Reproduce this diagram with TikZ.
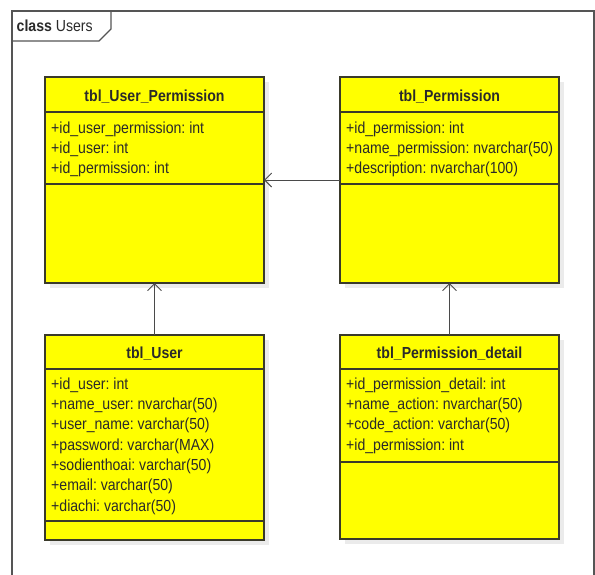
\documentclass[tikz,border=0pt]{standalone}
\usepackage{fontspec}
\setmainfont[FakeStretch=0.88]{Liberation Sans}
\usetikzlibrary{arrows.meta}
\definecolor{tblfill}{HTML}{FFFF00}
\definecolor{tblline}{HTML}{3A3A2A}
\definecolor{txtcol}{HTML}{2A2A2A}
\definecolor{linkcol}{HTML}{4A4A4A}
\definecolor{framecol}{HTML}{555555}
\tikzset{
  tblbox/.style={draw=tblline, line width=1.1pt, fill=tblfill, rectangle,
    anchor=north west, inner sep=0pt, outer sep=0pt},
  tblshadow/.style={fill=black!8, draw=none},
  tbltitle/.style={font=\bfseries\fontsize{16}{18}\selectfont, text=txtcol,
    inner sep=0pt, anchor=base},
  tblattr/.style={font=\fontsize{16}{20.3}\selectfont, text=txtcol, align=left,
    anchor=north west, inner sep=0pt},
  divline/.style={draw=tblline, line width=1.1pt},
  assoc/.style={draw=linkcol, line width=0.9pt,
    -{Straight Barb[length=7pt, width=14pt, line width=0.9pt]}},
}
\begin{document}
\frenchspacing
\begin{tikzpicture}[x=1pt, y=-1pt]
\useasboundingbox (0,0) rectangle (595,574);
\fill[white] (0,0) rectangle (595,574);

% diagram frame and its name tab
\draw[framecol, line width=1.2pt] (12,590) -- (12,11) -- (594,11) -- (594,590);
\draw[framecol, line width=1.2pt] (12,41) -- (99,41) -- (111,29) -- (111,11);
\node[anchor=base west, inner sep=0pt, text=txtcol,
  font=\fontsize{16}{18}\selectfont] (tabtext)
  at (16.5,31.5) {\textbf{class} Users};

% soft shadows under the tables
\fill[tblshadow] (50,82) rectangle (269,288);
\fill[tblshadow] (345,82) rectangle (564,288);
\fill[tblshadow] (50,340) rectangle (269,545);
\fill[tblshadow] (345,340) rectangle (564,544);

% tbl_User_Permission
\node[tblbox, minimum width=219pt, minimum height=206pt] (up) at (45,77) {};
\draw[divline] (45,112) -- (264,112);
\draw[divline] (45,184) -- (264,184);
\node[tbltitle] (uptitle) at (154.5,101.5) {tbl\_User\_Permission};
\node[tblattr] (upattr) at (51,121.5)
  {+id\_user\_permission: int\\+id\_user: int\\+id\_permission: int};

% tbl_Permission
\node[tblbox, minimum width=219pt, minimum height=206pt] (p) at (340,77) {};
\draw[divline] (340,112) -- (559,112);
\draw[divline] (340,184) -- (559,184);
\node[tbltitle] (ptitle) at (449.5,101.5) {tbl\_Permission};
\node[tblattr] (pattr) at (346,121.5)
  {+id\_permission: int\\+name\_permission: nvarchar(50)\\+description: nvarchar(100)};

% tbl_User
\node[tblbox, minimum width=219pt, minimum height=205pt] (u) at (45,335) {};
\draw[divline] (45,369) -- (264,369);
\draw[divline] (45,521) -- (264,521);
\node[tbltitle] (utitle) at (154.5,358) {tbl\_User};
\node[tblattr] (uattr) at (51,377.5)
  {+id\_user: int\\+name\_user: nvarchar(50)\\+user\_name: varchar(50)\\
   +password: varchar(MAX)\\+sodienthoai: varchar(50)\\+email: varchar(50)\\
   +diachi: varchar(50)};

% tbl_Permission_detail
\node[tblbox, minimum width=219pt, minimum height=204pt] (pd) at (340,335) {};
\draw[divline] (340,369) -- (559,369);
\draw[divline] (340,462) -- (559,462);
\node[tbltitle] (pdtitle) at (449.5,358) {tbl\_Permission\_detail};
\node[tblattr] (pdattr) at (346,377.5)
  {+id\_permission\_detail: int\\+name\_action: nvarchar(50)\\
   +code\_action: varchar(50)\\+id\_permission: int};

% associations
\draw[assoc] (p.west) -- (up.east);
\draw[assoc] (u.north) -- (up.south);
\draw[assoc] (pd.north) -- (p.south);
\end{tikzpicture}
\end{document}
